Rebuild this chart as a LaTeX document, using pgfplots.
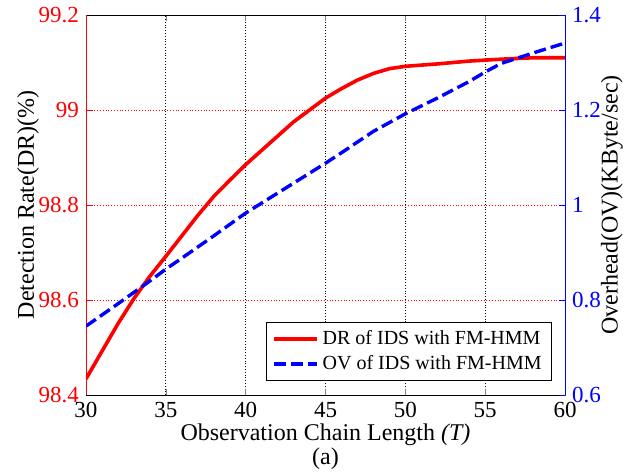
\documentclass[border=0pt]{standalone}
\usepackage{fontspec}
\setmainfont{Liberation Serif}
\usepackage{pgfplots}
\pgfplotsset{compat=1.18}
\pgfplotstableread{
x y
30 98.434
31 98.492
32 98.550
33 98.603
34 98.650
35 98.692
36 98.735
37 98.778
38 98.818
39 98.852
40 98.885
41 98.915
42 98.945
43 98.975
44 99.0
45 99.025
46 99.045
47 99.063
48 99.077
49 99.087
50 99.092
52 99.097
54 99.103
56 99.107
58 99.11
60 99.11
}\drtable
\pgfplotstableread{
x y
30 0.745
32 0.792
34 0.840
35 0.865
36 0.888
38 0.935
40 0.983
42 1.025
44 1.067
45 1.088
46 1.110
48 1.155
50 1.192
52 1.225
54 1.260
55 1.280
56 1.298
58 1.320
60 1.341
}\ovtable
\begin{document}
\begin{tikzpicture}[font=\fontsize{10}{12}\selectfont]
\pgfplotsset{every axis/.append style={
  width=239.5pt, height=190pt, scale only axis,
  xmin=30, xmax=60,
  tick align=inside, major tick length=3pt,
  /pgf/number format/assume math mode=true,
  tick label style={font=\fontsize{11.5}{12}\selectfont},
  label style={font=\fontsize{12}{12}\selectfont},
}}
\begin{axis}[
  name=a,
  axis y line*=left,
  ymin=98.4, ymax=99.2,
  ytick={98.4,98.6,98.8,99,99.2},
  xtick={30,35,40,45,50,55,60},
  y axis line style={red},
  ytick style={red},
  yticklabel style={red},
  xmajorgrids, ymajorgrids,
  major x grid style={black, densely dotted, line width=0.4pt},
  major y grid style={red, densely dotted, line width=0.4pt},
  xlabel={Observation Chain Length \textit{(T)}\\(a)},
  xlabel style={align=center, at={(axis description cs:0.5,0)}, anchor=center, yshift=-26pt},
  ylabel={Detection Rate(DR)(\%)},
  ylabel style={at={(axis description cs:-0.121,0.5)}, anchor=center},
]
\addplot[red, line width=1.8pt] table[x=x,y=y] {\drtable};
\end{axis}
\begin{axis}[
  axis y line*=right,
  axis x line=none,
  ymin=0.6, ymax=1.4,
  ytick={0.6,0.8,1,1.2,1.4},
  y axis line style={blue},
  ytick style={blue},
  yticklabel style={blue},
  ylabel={Overhead(OV)(KByte/sec)},
  ylabel style={at={(axis description cs:1.098,0.5)}, anchor=center},
  legend style={at={(axis description cs:1,0)}, anchor=south east, xshift=-6.5pt, yshift=7pt,
    draw=black, fill=white, font=\fontsize{10}{12}\selectfont, legend cell align=left},
  legend image code/.code={\draw[#1] (0cm,0cm) -- (0.75cm,0cm);},
]
\addlegendimage{red, line width=1.8pt}
\addlegendentry{DR of IDS with FM-HMM}
\addplot[blue, line width=1.7pt, dash pattern=on 6pt off 2.5pt] table[x=x,y=y] {\ovtable};
\addlegendentry{OV of IDS with FM-HMM}
\end{axis}
\pgfresetboundingbox
\useasboundingbox ([shift={(-43pt,-39.5pt)}]a.south west) rectangle ([shift={(34.5pt,7.5pt)}]a.north east);
\end{tikzpicture}
\end{document}
